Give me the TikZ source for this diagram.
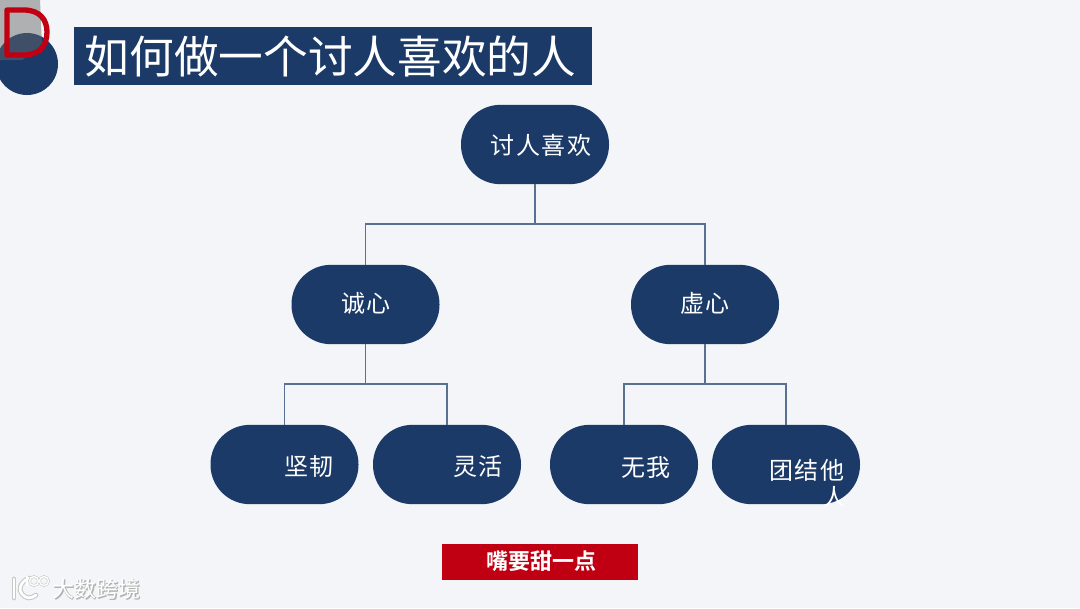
\documentclass[tikz,border=0pt]{standalone}
\usepackage{fontspec}
\setmainfont{Noto Sans CJK SC}
\newfontfamily\cjk[LetterSpace=8]{Noto Sans CJK SC}
\newfontfamily\cjktitle{Noto Sans CJK SC}
\newfontfamily\cjkbold{Noto Sans CJK SC Bold}
\definecolor{bgc}{HTML}{F3F5F8}
\definecolor{navy}{HTML}{1B3A68}
\definecolor{linec}{HTML}{5A7090}
\definecolor{redc}{HTML}{C00012}
\tikzset{
  x=0.75pt,y=-0.75pt,
  pill/.style={draw=none,fill=navy,rounded corners=29.5pt,minimum width=111pt,minimum height=59.5pt,inner sep=0pt},
  lbl/.style={text=white,font=\cjk\fontsize{18}{20}\selectfont,inner sep=0pt,anchor=center},
  conn/.style={draw=linec,line width=1pt},
  wm/.style={text=white,inner sep=0pt,anchor=west,font=\cjktitle\fontsize{16.5}{18}\selectfont},
  wmshade/.style={text=black!30,inner sep=0pt,anchor=west,font=\cjkbold\fontsize{16.5}{18}\selectfont}
}
\begin{document}
\begin{tikzpicture}
\useasboundingbox (0,0) rectangle (1080,608);
\fill[bgc] (0,0) rectangle (1080,608);
% badge
\fill[navy] (27,64) circle[radius=31];
\fill[black!60,opacity=.48] (0,0) -- (40,0) -- (42,46) -- (22,60) -- (0,60) -- cycle;
\draw[redc,line width=4pt,line join=round] (7,10) -- (24,10) .. controls (40,10) and (47,20) .. (47,32) .. controls (47,45) and (40,55) .. (24,55) -- (7,55) -- cycle;
% title
\node[fill=navy,minimum width=388.5pt,minimum height=43.5pt,inner sep=0pt] (title) at (333,56) {};
\node[text=white,inner sep=0pt,font=\cjktitle\fontsize{33.5}{36}\selectfont] (titletext) at (330.5,56) {如何做一个讨人喜欢的人};
% nodes
\node[pill] (root) at (535,144.5) {};
\node[pill] (a) at (365.5,304.5) {};
\node[pill] (b) at (705,304.5) {};
\node[pill] (a1) at (284.5,464.5) {};
\node[pill] (a2) at (447,464.5) {};
\node[pill] (b1) at (624,464.5) {};
\node[pill] (b2) at (786,464.5) {};
% connectors
\coordinate (j0) at (535,224);
\coordinate (j1) at (365.5,384);
\coordinate (j2) at (705,384);
\draw[conn] (root.south) -- (j0);
\draw[conn] (j0) -| (a.north);
\draw[conn] (j0) -| (b.north);
\draw[conn] (a.south) -- (j1);
\draw[conn] (j1) -| (a1.north);
\draw[conn] (j1) -| (a2.north);
\draw[conn] (b.south) -- (j2);
\draw[conn] (j2) -| (b1.north);
\draw[conn] (j2) -| (b2.north);
% labels
\node[lbl] (l0) at (541,145) {讨人喜欢};
\node[lbl] (l1) at (366,303) {诚心};
\node[lbl] (l2) at (705,303) {虚心};
\node[lbl] (l3) at (309,467) {坚韧};
\node[lbl] (l4) at (478,466) {灵活};
\node[lbl] (l5) at (646,467) {无我};
\node[lbl] (l6) at (807,470) {团结他};
\begin{scope}
\clip (712,425) rectangle (860,505);
\node[lbl] (l7) at (834,497) {人};
\end{scope}
% red banner
\node[fill=redc,minimum width=147pt,minimum height=27pt,inner sep=0pt] (banner) at (540,562) {};
\node[text=white,inner sep=0pt,font=\cjkbold\fontsize{16.5}{18}\selectfont] (bannertext) at (541.5,561) {嘴要甜一点};
% watermark
\node[wmshade] (w0) at (53,590) {大数跨境};
\node[wm] (w1) at (52,589) {大数跨境};
\foreach \c/\w in {black!22/3.6pt,white/2pt}{
  \draw[\c,line width=\w,line cap=round] (14,579) -- (14,598);
  \draw[\c,line width=\w,line cap=round] (29,578) .. controls (20,582) and (18,590) .. (22,594) .. controls (26,599) and (31,599) .. (36,595);
}
\foreach \c/\w in {black!22/1.9pt,white/1pt}{
  \draw[\c,line width=\w] (27,576) -- (27,586);
  \draw[\c,line width=\w] (34,581) circle[radius=4.5];
  \draw[\c,line width=\w] (44,581) circle[radius=4.5];
}
\end{tikzpicture}
\end{document}
